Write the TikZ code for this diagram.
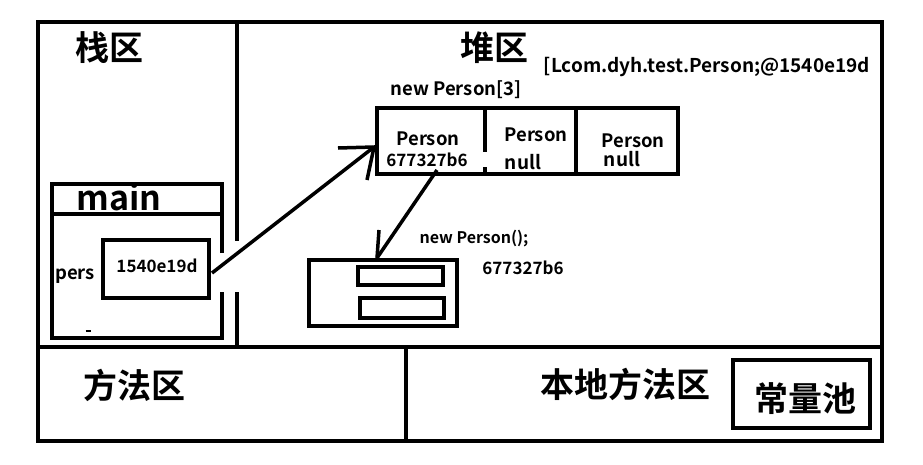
\documentclass[tikz,border=0pt]{standalone}
\usepackage{fontspec}
\setmainfont{Noto Sans CJK SC}[BoldFont={Noto Sans CJK SC Bold}]
\begin{document}
\begin{tikzpicture}[x=1pt,y=-1pt,
  thick line/.style={line width=4pt},
  med line/.style={line width=3.5pt},
  lbl/.style={inner sep=0pt,font=\bfseries\fontsize{#1}{#1}\selectfont},
  lbl/.default=16,
  cjk/.style={inner sep=0pt,font=\bfseries\fontsize{34}{34}\selectfont}]
\useasboundingbox (0,0) rectangle (923,464);
% outer frame and areas
\draw[thick line] (38,22) rectangle (882,441);
\draw[thick line] (38,347) -- (882,347);
\draw[thick line] (406,347) rectangle (882,441);
\draw[thick line] (237,22) -- (237,241);
\draw[thick line] (237,292) -- (237,345);
\node[cjk] (stack) at (109,48) {栈区};
\node[cjk] (heap) at (494,48) {堆区};
\node[cjk] (method) at (134,385) {方法区};
\node[cjk] (native) at (625,384) {本地方法区};
\node[draw,line width=3.5pt,minimum width=137pt,minimum height=68pt] (poolbox) at (801.5,394) {};
\node[cjk] (pool) at (805,399) {常量池};
% main frame
\draw[med line] (222,253) -- (222,184) -- (52,184) -- (52,338) -- (222,338) -- (222,292);
\draw[med line] (52,214) -- (222,214);
\node[lbl=34] (main) at (119,197) {main};
\node[lbl=1] (tick) at (88,331) {\rule{5pt}{2pt}};
\node[lbl=18.5] (pers) at (75,276) {pers};
\node[draw,med line,minimum width=106pt,minimum height=58pt] (ref) at (156,269) {};
\node[lbl=17] (refv) at (157,266) {1540e19d};
% heap texts
\node[lbl=19] (cls) at (707,67) {[Lcom.dyh.test.Person;@1540e19d};
\node[lbl=18.5] (newarr) at (456,90) {new Person[3]};
% array
\draw[med line] (377,108) rectangle (678,174);
\draw[med line] (485,107) -- (485,152);
\draw[med line] (485,167) -- (485,174);
\draw[med line] (576,107) -- (576,174);
\node[lbl=18.5] (p1) at (428,139) {Person};
\node[lbl=17] (p1v) at (427,160) {677327b6};
\node[lbl=18.5] (p2) at (536,135) {Person};
\node[lbl=19] (p2v) at (523,162) {null};
\node[lbl=18.5] (p3) at (633,141) {Person};
\node[lbl=19] (p3v) at (622,159) {null};
% object
\draw[med line] (309,260) rectangle (457,326);
\draw[med line] (358,267) rectangle (443,285);
\draw[med line] (360,298) rectangle (444,318);
\node[lbl=16] (newobj) at (474,239) {new Person();};
\node[lbl=17] (objv) at (523,268) {677327b6};
% arrows (hand-drawn style)
\coordinate (a1s) at (212,273);
\coordinate (a1t) at (374,147);
\draw[med line] (a1s) -- (a1t);
\draw[med line] (338,148) -- (a1t) -- (367,180);
\coordinate (a2s) at (437,170);
\coordinate (a2t) at (377,258);
\draw[med line] (a2s) -- (a2t);
\draw[med line] (379,230) -- (a2t);
\end{tikzpicture}
\end{document}
